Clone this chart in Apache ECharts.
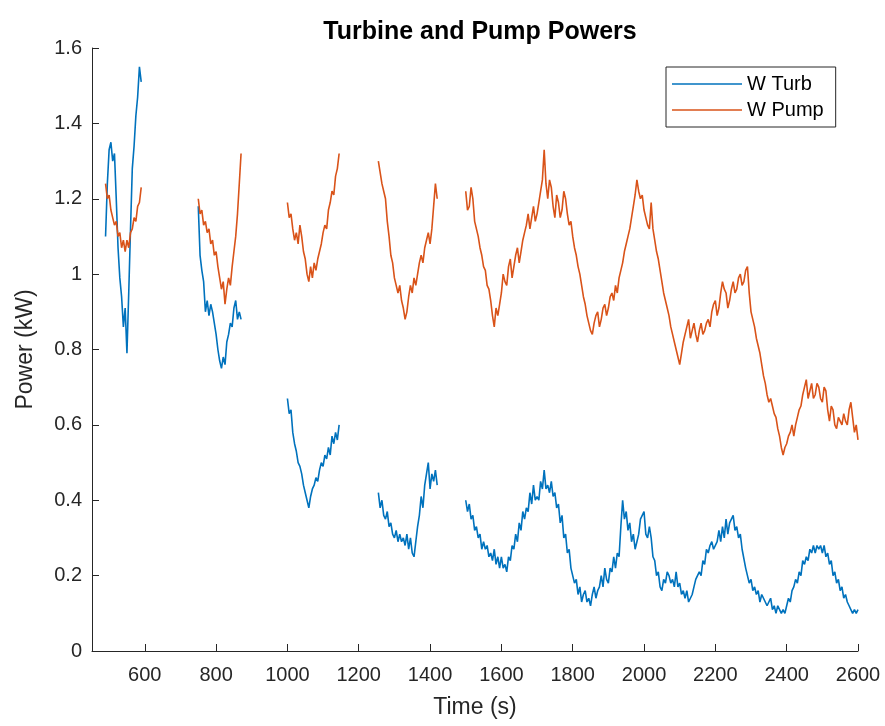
<!DOCTYPE html>
<html>
<head>
<meta charset="utf-8">
<title>Turbine and Pump Powers</title>
<script src="https://cdn.jsdelivr.net/npm/echarts@6/dist/echarts.min.js"></script>
<style>
  html, body { margin: 0; padding: 0; background: #fff; }
  #main { width: 885px; height: 726px; }
</style>
</head>
<body>
<div id="main"></div>
<script>
// time stamps (s) of each recorded segment
const time1 = [490, 495, 500, 505, 510, 515, 520, 525, 530, 535, 540, 545, 550, 555, 560, 565, 570, 575, 580, 585, 590]
const time2 = [750, 755, 760, 765, 770, 775, 780, 785, 790, 795, 800, 805, 810, 815, 820, 825, 830, 835, 840, 845, 850, 855, 860, 865, 870]
const time3 = [1000, 1005, 1010, 1015, 1020, 1025, 1030, 1035, 1040, 1045, 1050, 1055, 1060, 1065, 1070, 1075, 1080, 1085, 1090, 1095,
  1100, 1105, 1110, 1115, 1120, 1125, 1130, 1135, 1140, 1145]
const time4 = [1255, 1260, 1265, 1270, 1275, 1280, 1285, 1290, 1295, 1300, 1305, 1310, 1315, 1320, 1325, 1330, 1335, 1340, 1345, 1350,
  1355, 1360, 1365, 1370, 1375, 1380, 1385, 1390, 1395, 1400, 1405, 1410, 1415, 1420]
const time5 = [
  1500, 1505, 1510, 1515, 1520, 1525, 1530, 1535, 1540, 1545, 1550, 1555, 1560, 1565, 1570, 1575, 1580, 1585, 1590, 1595,
  1600, 1605, 1610, 1615, 1620, 1625, 1630, 1635, 1640, 1645, 1650, 1655, 1660, 1665, 1670, 1675, 1680, 1685, 1690, 1695,
  1700, 1705, 1710, 1715, 1720, 1725, 1730, 1735, 1740, 1745, 1750, 1755, 1760, 1765, 1770, 1775, 1780, 1785, 1790, 1795,
  1800, 1805, 1810, 1815, 1820, 1825, 1830, 1835, 1840, 1845, 1850, 1855, 1860, 1865, 1870, 1875, 1880, 1885, 1890, 1895,
  1900, 1905, 1910, 1915, 1920, 1925, 1930, 1935, 1940, 1945, 1950, 1955, 1960, 1965, 1970, 1975, 1980, 1985, 1990, 1995,
  2000, 2005, 2010, 2015, 2020, 2025, 2030, 2035, 2040, 2045, 2050, 2055, 2060, 2065, 2070, 2075, 2080, 2085, 2090, 2095,
  2100, 2105, 2110, 2115, 2120, 2125, 2130, 2135, 2140, 2145, 2150, 2155, 2160, 2165, 2170, 2175, 2180, 2185, 2190, 2195,
  2200, 2205, 2210, 2215, 2220, 2225, 2230, 2235, 2240, 2245, 2250, 2255, 2260, 2265, 2270, 2275, 2280, 2285, 2290, 2295,
  2300, 2305, 2310, 2315, 2320, 2325, 2330, 2335, 2340, 2345, 2350, 2355, 2360, 2365, 2370, 2375, 2380, 2385, 2390, 2395,
  2400, 2405, 2410, 2415, 2420, 2425, 2430, 2435, 2440, 2445, 2450, 2455, 2460, 2465, 2470, 2475, 2480, 2485, 2490, 2495,
  2500, 2505, 2510, 2515, 2520, 2525, 2530, 2535, 2540, 2545, 2550, 2555, 2560, 2565, 2570, 2575, 2580, 2585, 2590, 2595,
  2600]

// W Turb (kW)
const turb1 = [1.10, 1.24, 1.33, 1.35, 1.30, 1.32, 1.20, 1.07, 0.99, 0.94, 0.86, 0.91, 0.79, 0.95, 1.12, 1.28, 1.34, 1.42, 1.47, 1.55, 1.51]
const turb2 = [1.18, 1.05, 1.01, 0.98, 0.90, 0.93, 0.89, 0.92, 0.90, 0.87, 0.84, 0.80, 0.77, 0.75, 0.78, 0.76, 0.82, 0.84, 0.87, 0.86,
  0.91, 0.93, 0.88, 0.90, 0.88]
const turb3 = [0.67, 0.63, 0.64, 0.58, 0.55, 0.53, 0.50, 0.49, 0.47, 0.44, 0.42, 0.40, 0.38, 0.41, 0.43, 0.44, 0.46, 0.45, 0.48, 0.50,
  0.49, 0.52, 0.51, 0.54, 0.52, 0.57, 0.55, 0.58, 0.56, 0.60]
const turb4 = [0.42, 0.38, 0.40, 0.36, 0.35, 0.37, 0.33, 0.34, 0.31, 0.30, 0.32, 0.29, 0.31, 0.29, 0.30, 0.28, 0.31, 0.27, 0.30, 0.26,
  0.25, 0.29, 0.33, 0.36, 0.41, 0.38, 0.44, 0.47, 0.50, 0.43, 0.47, 0.45, 0.48, 0.44]
const turb5 = [
  0.40, 0.37, 0.39, 0.35, 0.36, 0.32, 0.33, 0.30, 0.31, 0.27, 0.29, 0.27, 0.28, 0.25, 0.26, 0.24, 0.27, 0.23, 0.25, 0.22,
  0.25, 0.22, 0.23, 0.21, 0.25, 0.24, 0.28, 0.27, 0.31, 0.29, 0.34, 0.32, 0.37, 0.35, 0.38, 0.37, 0.42, 0.39, 0.44, 0.40,
  0.41, 0.40, 0.45, 0.43, 0.48, 0.43, 0.44, 0.42, 0.45, 0.41, 0.42, 0.38, 0.39, 0.34, 0.36, 0.30, 0.31, 0.26, 0.27, 0.22,
  0.22, 0.18, 0.19, 0.15, 0.17, 0.13, 0.15, 0.16, 0.13, 0.14, 0.12, 0.15, 0.17, 0.14, 0.16, 0.17, 0.20, 0.17, 0.22, 0.19,
  0.18, 0.22, 0.21, 0.25, 0.22, 0.26, 0.25, 0.33, 0.40, 0.35, 0.37, 0.32, 0.34, 0.29, 0.31, 0.27, 0.29, 0.31, 0.35, 0.36,
  0.37, 0.31, 0.30, 0.33, 0.30, 0.25, 0.24, 0.20, 0.21, 0.17, 0.16, 0.19, 0.18, 0.21, 0.20, 0.18, 0.19, 0.17, 0.21, 0.17,
  0.18, 0.15, 0.16, 0.14, 0.16, 0.13, 0.14, 0.15, 0.17, 0.19, 0.19, 0.21, 0.20, 0.24, 0.23, 0.27, 0.26, 0.28, 0.29, 0.27,
  0.27, 0.29, 0.32, 0.29, 0.33, 0.30, 0.35, 0.31, 0.34, 0.34, 0.36, 0.32, 0.33, 0.30, 0.31, 0.27, 0.27, 0.22, 0.22, 0.18,
  0.19, 0.16, 0.17, 0.15, 0.16, 0.13, 0.15, 0.14, 0.14, 0.12, 0.13, 0.14, 0.11, 0.12, 0.10, 0.12, 0.11, 0.10, 0.11, 0.10,
  0.12, 0.14, 0.13, 0.16, 0.17, 0.19, 0.18, 0.21, 0.20, 0.24, 0.23, 0.25, 0.24, 0.27, 0.26, 0.28, 0.26, 0.28, 0.27, 0.28,
  0.26, 0.28, 0.25, 0.26, 0.23, 0.24, 0.20, 0.21, 0.18, 0.19, 0.16, 0.17, 0.14, 0.15, 0.13, 0.12, 0.11, 0.10, 0.11, 0.10,
  0.11]

// W Pump (kW)
const pump1 = [1.24, 1.20, 1.21, 1.17, 1.15, 1.13, 1.14, 1.10, 1.11, 1.07, 1.09, 1.06, 1.09, 1.07, 1.11, 1.12, 1.15, 1.14, 1.18, 1.19, 1.23]
const pump2 = [1.20, 1.16, 1.17, 1.13, 1.14, 1.11, 1.12, 1.08, 1.09, 1.05, 1.06, 1.02, 0.99, 0.96, 0.98, 0.92, 0.96, 0.99, 0.97, 1.02,
  1.06, 1.10, 1.16, 1.24, 1.32]
const pump3 = [1.19, 1.15, 1.16, 1.12, 1.09, 1.11, 1.08, 1.13, 1.10, 1.06, 1.04, 1.00, 0.98, 1.02, 0.99, 1.03, 1.01, 1.04, 1.06, 1.08,
  1.11, 1.13, 1.12, 1.17, 1.19, 1.22, 1.21, 1.26, 1.28, 1.32]
const pump4 = [1.30, 1.27, 1.24, 1.22, 1.20, 1.14, 1.10, 1.05, 1.03, 0.99, 0.97, 0.95, 0.97, 0.93, 0.91, 0.88, 0.90, 0.94, 0.97, 0.95,
  0.99, 0.97, 1.00, 1.03, 1.05, 1.03, 1.07, 1.09, 1.11, 1.08, 1.12, 1.18, 1.24, 1.20]
const pump5 = [
  1.22, 1.17, 1.18, 1.23, 1.20, 1.14, 1.12, 1.10, 1.07, 1.05, 1.02, 1.01, 0.97, 0.96, 0.93, 0.89, 0.86, 0.91, 0.89, 0.92,
  0.95, 1.00, 0.98, 0.97, 1.02, 1.04, 0.99, 1.02, 1.05, 1.07, 1.03, 1.06, 1.09, 1.11, 1.13, 1.16, 1.12, 1.15, 1.18, 1.14,
  1.16, 1.19, 1.22, 1.25, 1.33, 1.24, 1.20, 1.25, 1.23, 1.18, 1.15, 1.21, 1.19, 1.15, 1.17, 1.22, 1.20, 1.16, 1.13, 1.14,
  1.10, 1.07, 1.05, 1.02, 1.00, 0.97, 0.94, 0.92, 0.89, 0.87, 0.85, 0.84, 0.87, 0.89, 0.90, 0.86, 0.88, 0.91, 0.92, 0.89,
  0.91, 0.94, 0.95, 0.93, 0.97, 0.95, 0.99, 1.01, 1.03, 1.06, 1.08, 1.10, 1.12, 1.15, 1.18, 1.21, 1.25, 1.22, 1.20, 1.21,
  1.17, 1.15, 1.13, 1.12, 1.19, 1.12, 1.09, 1.06, 1.04, 1.01, 0.98, 0.95, 0.93, 0.91, 0.89, 0.86, 0.84, 0.82, 0.80, 0.78,
  0.76, 0.79, 0.82, 0.84, 0.86, 0.88, 0.83, 0.85, 0.87, 0.84, 0.82, 0.85, 0.87, 0.84, 0.85, 0.87, 0.88, 0.86, 0.90, 0.92,
  0.93, 0.89, 0.91, 0.95, 0.98, 0.96, 0.95, 0.91, 0.93, 0.96, 0.98, 0.95, 0.96, 0.99, 1.00, 0.97, 0.98, 1.01, 1.02, 0.95,
  0.90, 0.88, 0.86, 0.83, 0.81, 0.79, 0.76, 0.73, 0.71, 0.68, 0.66, 0.67, 0.65, 0.63, 0.62, 0.59, 0.57, 0.54, 0.52, 0.54,
  0.55, 0.57, 0.58, 0.60, 0.57, 0.60, 0.62, 0.64, 0.65, 0.68, 0.70, 0.72, 0.67, 0.69, 0.71, 0.67, 0.68, 0.71, 0.70, 0.67,
  0.66, 0.70, 0.69, 0.64, 0.61, 0.65, 0.64, 0.60, 0.59, 0.62, 0.62, 0.60, 0.63, 0.61, 0.60, 0.64, 0.66, 0.62, 0.58, 0.60,
  0.56]

const xTicks = [600, 800, 1000, 1200, 1400, 1600, 1800, 2000, 2200, 2400, 2600]

const times = [time1, time2, time3, time4, time5]
const turbSegs = [turb1, turb2, turb3, turb4, turb5]
const pumpSegs = [pump1, pump2, pump3, pump4, pump5]

// join the segments, with an empty point between them so the line breaks
function joinSegs(segs) {
  const out = []
  segs.forEach((seg, i) => {
    if (i > 0)
      out.push([times[i][0] - 1, '-'])
    seg.forEach((v, j) => out.push([times[i][j], v]))
  })
  return out
}

const font = 'Liberation Sans, Arial, Helvetica, sans-serif'
const ink = '#262626'

const chart = echarts.init(document.getElementById('main'))
chart.setOption({
  animation: false,
  backgroundColor: '#fff',
  title: {
    text: 'Turbine and Pump Powers',
    left: 475,
    top: 15,
    textAlign: 'center',
    textStyle: { fontFamily: font, fontSize: 25, fontWeight: 'bold', color: '#000' },
  },
  legend: {
    orient: 'vertical',
    left: 666,
    top: 67,
    padding: [7, 12, 7, 6],
    itemWidth: 70,
    itemHeight: 1.6,
    itemGap: 6,
    icon: 'rect',
    borderColor: ink,
    borderWidth: 1,
    backgroundColor: '#fff',
    textStyle: { fontFamily: font, fontSize: 20, lineHeight: 20, color: '#000' },
    data: ['W Turb', 'W Pump'],
  },
  grid: {
    left: 92,
    right: 27,
    top: 48,
    bottom: 75,
    outerBoundsMode: 'none',
  },
  xAxis: {
    type: 'value',
    min: 452,
    max: 2600,
    name: 'Time (s)',
    nameLocation: 'middle',
    nameGap: 45,
    nameTextStyle: { fontFamily: font, fontSize: 23, color: ink },
    axisLine: { lineStyle: { color: ink, width: 1 } },
    axisTick: { inside: true, length: 7, customValues: xTicks, lineStyle: { color: ink } },
    axisLabel: {
      customValues: xTicks,
      margin: 14,
      fontFamily: font,
      fontSize: 20,
      color: ink,
      formatter: v => String(v),
    },
    splitLine: { show: false },
  },
  yAxis: {
    type: 'value',
    min: 0,
    max: 1.6,
    interval: 0.2,
    name: 'Power (kW)',
    nameLocation: 'middle',
    nameGap: 55,
    nameTextStyle: { fontFamily: font, fontSize: 23, color: ink },
    axisLine: { show: true, lineStyle: { color: ink, width: 1 } },
    axisTick: { show: true, inside: true, length: 7, lineStyle: { color: ink } },
    axisLabel: { margin: 10, fontFamily: font, fontSize: 20, color: ink },
    splitLine: { show: false },
  },
  series: [
    {
      name: 'W Turb',
      type: 'line',
      symbol: 'none',
      connectNulls: false,
      lineStyle: { color: '#0072BD', width: 1.6 },
      itemStyle: { color: '#0072BD' },
      data: joinSegs(turbSegs),
    },
    {
      name: 'W Pump',
      type: 'line',
      symbol: 'none',
      connectNulls: false,
      lineStyle: { color: '#D95319', width: 1.6 },
      itemStyle: { color: '#D95319' },
      data: joinSegs(pumpSegs),
    },
  ],
})
</script>
</body>
</html>
